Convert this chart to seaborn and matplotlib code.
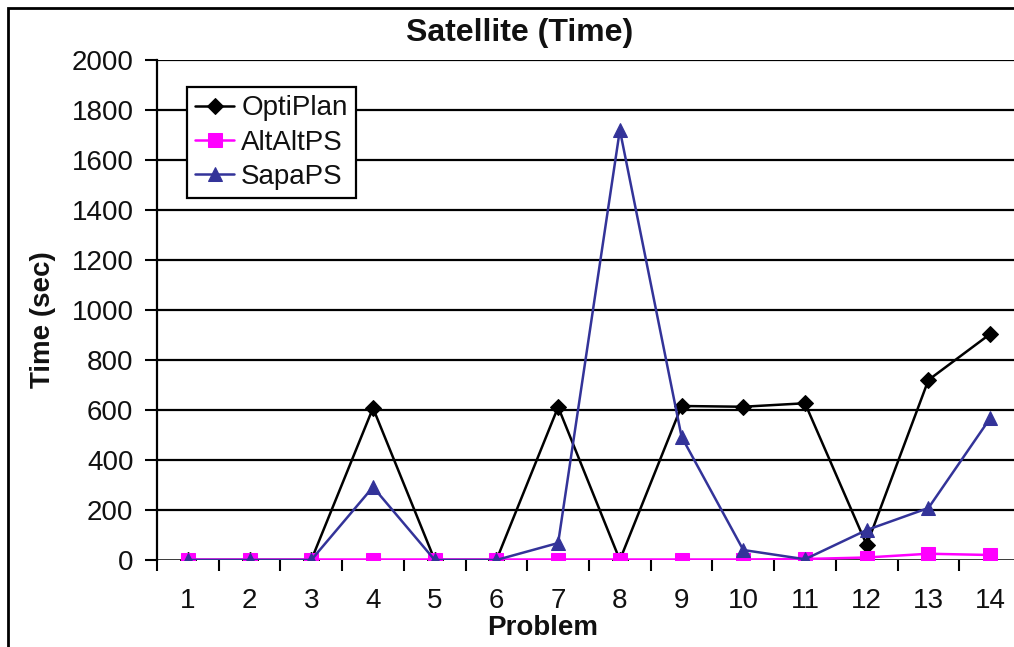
import matplotlib
matplotlib.use("Agg")
import matplotlib.pyplot as plt
import seaborn as sns
import pandas as pd
from matplotlib.patches import Rectangle

problems = list(range(1, 15))
optiplan = [0, 0, 0, 608, 0, 0, 612, 0, 616, 613, 627, 60, 720, 904]
altaltps = [2, 2, 2, 2, 2, 2, 2, 2, 2, 2, 4, 10, 25, 20]
sapaps = [0, 0, 0, 292, 0, 0, 68, 1720, 493, 40, 3, 120, 208, 567]
series_names = ["OptiPlan", "AltAltPS", "SapaPS"]
yticks = list(range(0, 2001, 200))

sns.set_theme(style="white")
plt.rcParams["font.family"] = ["Liberation Sans", "DejaVu Sans"]

fig = plt.figure(figsize=(10.14, 6.47), dpi=100)
W, H = 1014, 647
ax = fig.add_axes([157 / W, 1 - 560 / H, 864 / W, 500 / H])

df = pd.DataFrame({
    "Problem": problems * 3,
    "Time": optiplan + altaltps + sapaps,
    "Series": sum([[n] * len(problems) for n in series_names], []),
})

styles = {
    "OptiPlan": dict(color="black", marker="D", ms=8),
    "AltAltPS": dict(color="#ff00ff", marker="s", ms=10),
    "SapaPS": dict(color="#333399", marker="^", ms=10),
}
for name in series_names:
    st = styles[name]
    sns.lineplot(data=df[df["Series"] == name], x="Problem", y="Time", ax=ax,
                 color=st["color"], marker=st["marker"], markersize=st["ms"],
                 markeredgecolor=st["color"], markerfacecolor=st["color"],
                 linewidth=1.8, label=name, zorder=3)

FS = 20
ax.set_xlim(0.5, 14.5)
ax.set_ylim(0, 2000)
ax.set_yticks(yticks)
ax.set_yticklabels([str(v) for v in yticks], fontsize=FS, color="#111111")
ax.set_xticks(problems)
ax.set_xticklabels([str(p) for p in problems], fontsize=FS, color="#111111")
ax.set_xticks([p + 0.5 for p in range(0, 15)], minor=True)
ax.tick_params(axis="x", which="major", bottom=True, length=0, pad=20)
ax.tick_params(axis="x", which="minor", bottom=True, length=8, width=1.5,
               color="black", direction="out")
ax.tick_params(axis="y", left=True, length=9, width=1.5, color="black",
               direction="out", pad=8)
for v in yticks[1:]:
    ax.axhline(v, color="black", lw=1.6, zorder=1)
ax.axhline(0, color="black", lw=1.8, zorder=2)

for s in ["top", "right", "bottom"]:
    ax.spines[s].set_visible(False)
ax.spines["left"].set_color("black")
ax.spines["left"].set_linewidth(1.6)
ax.set_xlabel("")
ax.set_ylabel("")

fig.text(520 / W, 1 - 33 / H, "Satellite (Time)", ha="center", va="center",
         fontsize=23, fontweight="bold", color="#111111")
fig.text(43 / W, 1 - 320 / H, "Time (sec)", ha="center", va="center",
         rotation=90, fontsize=FS, fontweight="bold", color="#111111")
fig.text(543 / W, 1 - 628 / H, "Problem", ha="center", va="center",
         fontsize=FS, fontweight="bold", color="#111111")

leg = ax.legend(loc="upper left", bbox_to_anchor=(187 / W, 1 - 87 / H),
                bbox_transform=fig.transFigure, borderaxespad=0, fontsize=FS,
                frameon=True, fancybox=False, framealpha=1, edgecolor="black",
                handlelength=1.4, handletextpad=0.25, labelspacing=0.3,
                borderpad=0.3)
leg.get_frame().set_linewidth(1.6)
for t in leg.get_texts():
    t.set_color("#111111")

fig.patches.append(Rectangle((8 / W, -0.05), 1.1, 1 - 8 / H + 0.05,
                             transform=fig.transFigure, fill=False,
                             edgecolor="black", lw=2))

fig.savefig("out.png", dpi=100)
